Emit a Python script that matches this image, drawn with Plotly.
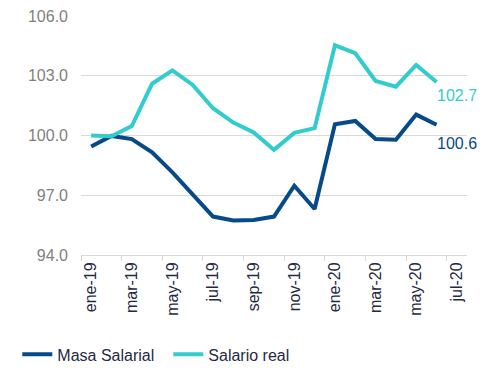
import plotly.graph_objects as go

months = ["ene-19", "feb-19", "mar-19", "abr-19", "may-19", "jun-19", "jul-19", "ago-19",
          "sep-19", "oct-19", "nov-19", "dic-19", "ene-20", "feb-20", "mar-20", "abr-20",
          "may-20", "jun-20", "jul-20"]
masa_salarial = [99.45, 99.98, 99.82, 99.15, 98.15, 97.07, 95.93, 95.73, 95.76, 95.93,
                 97.48, 96.31, 100.57, 100.73, 99.82, 99.79, 101.05, 100.54]
salario_real = [100.0, 99.96, 100.47, 102.6, 103.27, 102.54, 101.37, 100.65, 100.15, 99.28,
                100.13, 100.37, 104.53, 104.13, 102.74, 102.45, 103.54, 102.69]
last_labels = ["100.6", "102.7"]
y_ticks = [94.0, 97.0, 100.0, 103.0, 106.0]

DARK = "#064A8A"
CYAN = "#33CCCC"
GRID = "#D9D9D9"
TXT = "#1F2A44"
FONT = "Liberation Sans, Arial, sans-serif"

n = len(months)
x_all = list(range(n))

fig = go.Figure()
fig.add_trace(go.Scatter(x=x_all[:len(masa_salarial)], y=masa_salarial, mode="lines",
                         name="Masa Salarial", line=dict(color=DARK, width=4)))
fig.add_trace(go.Scatter(x=x_all[:len(salario_real)], y=salario_real, mode="lines",
                         name="Salario real", line=dict(color=CYAN, width=4)))

i_last = len(masa_salarial) - 1
fig.add_annotation(x=i_last, y=masa_salarial[-1], text=last_labels[0], showarrow=False,
                   xanchor="left", yanchor="middle", xshift=-2, yshift=-19,
                   font=dict(color=DARK, size=16, family=FONT))
fig.add_annotation(x=i_last, y=salario_real[-1], text=last_labels[1], showarrow=False,
                   xanchor="left", yanchor="middle", xshift=-2, yshift=-14,
                   font=dict(color=CYAN, size=16, family=FONT))

fig.update_layout(
    width=482, height=372,
    margin=dict(l=81, r=15, t=16, b=117, autoexpand=False),
    paper_bgcolor="white", plot_bgcolor="white",
    font=dict(family=FONT, size=16, color=TXT),
    showlegend=True,
    legend=dict(orientation="h", x=-0.165, y=-0.416, xanchor="left", yanchor="middle",
                font=dict(size=16, color=TXT), itemwidth=30, tracegroupgap=0,
                entrywidth=106),
    xaxis=dict(
        range=[-0.5, n - 0.5],
        tickmode="array",
        tickvals=x_all[::2],
        ticktext=months[::2],
        tickangle=-90,
        ticks="",
        showgrid=False,
        zeroline=False,
        showline=True, linecolor=GRID, linewidth=1,
        tickfont=dict(size=16, color=TXT),
        automargin=False,
        minor=dict(tickmode="array", tickvals=[v - 0.5 for v in x_all[::2]],
                   ticks="outside", ticklen=5, tickcolor=GRID, tickwidth=1, showgrid=False),
    ),
    yaxis=dict(
        range=[94, 106],
        tickmode="array",
        tickvals=y_ticks,
        ticktext=[f"{v:.1f}" for v in y_ticks],
        showgrid=True, gridcolor=GRID, gridwidth=1,
        zeroline=False, showline=False,
        automargin=False,
        tickfont=dict(size=16, color="#7F7F7F"),
        ticklabelstandoff=12,
    ),
)

fig.write_html("out.html", config={"displayModeBar": False},
               post_script="document.body.style.margin='0px';")
